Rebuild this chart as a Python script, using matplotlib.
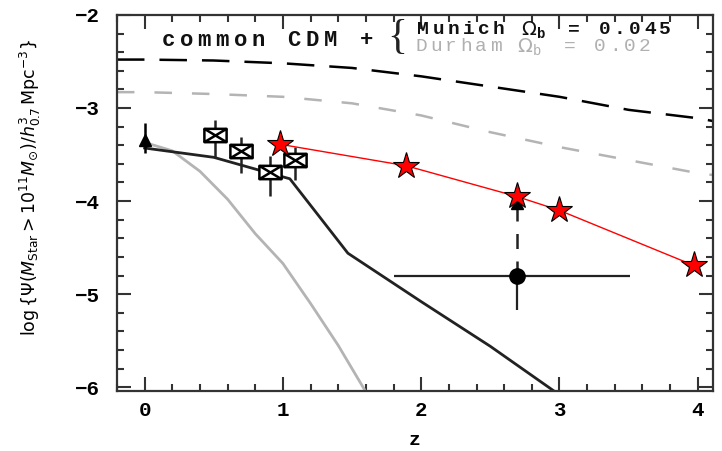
import matplotlib
matplotlib.use('Agg')
import matplotlib.pyplot as plt
from matplotlib.path import Path
from matplotlib.ticker import MultipleLocator

# model curves
munich_z = [-0.2, 0.0, 0.5, 1.0, 1.5, 2.0, 2.5, 3.0, 3.5, 4.0, 4.11]
munich_cdm = [-2.48, -2.48, -2.49, -2.52, -2.57, -2.66, -2.77, -2.88, -3.02, -3.11, -3.14]
durham_z = [-0.2, 0.0, 0.5, 1.0, 1.5, 2.0, 2.5, 3.0, 3.5, 4.0, 4.11]
durham_cdm = [-2.83, -2.83, -2.85, -2.88, -2.95, -3.08, -3.26, -3.42, -3.56, -3.70, -3.72]
munich_sam_z = [0.0, 0.5, 1.0, 1.05, 1.47, 2.0, 2.5, 2.97]
munich_sam = [-3.43, -3.53, -3.74, -3.76, -4.56, -5.08, -5.56, -6.05]
durham_sam_z = [0.0, 0.2, 0.4, 0.6, 0.8, 1.0, 1.2, 1.4, 1.6]
durham_sam = [-3.37, -3.46, -3.68, -3.98, -4.35, -4.67, -5.10, -5.55, -6.05]

# data points
tri_z, tri_y, tri_lo, tri_hi = 0.0, -3.34, -3.48, -3.16
box_z = [0.51, 0.70, 0.91, 1.09]
box_y = [-3.29, -3.46, -3.69, -3.56]
box_lo = [-3.53, -3.70, -3.94, -3.77]
box_hi = [-3.13, -3.31, -3.52, -3.42]
star_z = [0.98, 1.89, 2.69, 3.00, 3.97]
star_y = [-3.39, -3.62, -3.95, -4.10, -4.69]
dot_z, dot_y = 2.69, -4.80
dot_zlo, dot_zhi = 1.80, 3.51
dot_ylo, dot_yup = -5.17, -4.02

fig = plt.figure(figsize=(7.22, 4.51), dpi=100)
ax = fig.add_axes([0.162, 0.133, 0.8255, 0.834])


def spaced_text(x, y, chars, step, **kw):
    # old plot fonts are wide, so put each char at a fixed pixel step
    for i, ch in enumerate(chars):
        if ch == ' ':
            continue
        if ch == 'SUB_b':
            ax.annotate('b', (x, y), xytext=(i * step - 3, -4),
                        textcoords='offset pixels', ha='center', va='center',
                        **dict(kw, fontsize=10))
            continue
        ax.annotate(ch, (x, y), xytext=(i * step, 0), textcoords='offset pixels',
                    ha='center', va='center', **kw)


ax.plot(munich_z, munich_cdm, color='black', lw=1.8, dashes=(11, 6))
ax.plot(durham_z, durham_cdm, color='#b4b4b4', lw=1.8, dashes=(7, 8))
ax.plot(durham_sam_z, durham_sam, color='#b4b4b4', lw=2)
ax.plot(munich_sam_z, munich_sam, color='#222222', lw=2)

ax.errorbar([tri_z], [tri_y], yerr=[[tri_y - tri_lo], [tri_hi - tri_y]],
            fmt='^', color='black', ms=9, elinewidth=1.8, capsize=0)

box = Path([(-1, -0.6), (1, -0.6), (1, 0.6), (-1, 0.6), (-1, -0.6),
            (1, 0.6), (-1, 0.6), (1, -0.6)],
           [Path.MOVETO, Path.LINETO, Path.LINETO, Path.LINETO, Path.CLOSEPOLY,
            Path.LINETO, Path.MOVETO, Path.LINETO])
box_err = [[y - lo for y, lo in zip(box_y, box_lo)],
           [hi - y for y, hi in zip(box_y, box_hi)]]
ax.errorbar(box_z, box_y, yerr=box_err, fmt='none', ecolor='#222222',
            elinewidth=1.8, capsize=0)
ax.plot(box_z, box_y, ls='none', marker=box, ms=16, mfc='white',
        mec='black', mew=1.8)

# lower limit point
ax.errorbar([dot_z], [dot_y], xerr=[[dot_z - dot_zlo], [dot_zhi - dot_z]],
            yerr=[[dot_y - dot_ylo], [0]], fmt='none', ecolor='#222222',
            elinewidth=1.6, capsize=0)
ax.plot([dot_z, dot_z], [dot_y, dot_yup], color='#222222', lw=1.8,
        dashes=(6, 5))
ax.plot([dot_z], [dot_yup], marker='^', color='black', ms=8)
ax.plot([dot_z], [dot_y], marker='o', color='black', ms=11)

ax.plot(star_z, star_y, color='red', lw=1, zorder=4)
ax.plot(star_z, star_y, ls='none', marker='*', ms=20, mfc='red',
        mec='black', mew=0.8, zorder=5)

ax.set_xlim(-0.2, 4.11)
ax.set_ylim(-6.04, -2.0)
ax.xaxis.set_major_locator(MultipleLocator(1))
ax.xaxis.set_minor_locator(MultipleLocator(0.2))
ax.yaxis.set_major_locator(MultipleLocator(1))
ax.yaxis.set_minor_locator(MultipleLocator(0.2))
ax.tick_params(which='both', direction='in', top=True, right=True,
               color='#333333', width=1.5)
ax.tick_params(which='major', length=10, labelsize=15)
ax.tick_params(axis='x', which='major', pad=7)
ax.tick_params(axis='y', which='major', pad=12)
ax.tick_params(which='minor', length=5)
for lab in ax.get_xticklabels() + ax.get_yticklabels():
    lab.set_family('Liberation Mono')
    lab.set_weight('bold')
for s in ax.spines.values():
    s.set_linewidth(1.6)
    s.set_color('#333333')

ax.set_xlabel('z', family='Liberation Mono', weight='bold', fontsize=14,
              labelpad=9)
ax.set_ylabel(r'$\log\{\Psi(M_{\rm Star}>10^{11}M_{\odot})/h_{0.7}^{3}\,{\rm Mpc}^{-3}\}$',
              fontsize=12.5)
ax.yaxis.set_label_coords(-0.124, 0.54)

spaced_text(0.171, -2.27, list('common CDM +'), 18, family='Liberation Mono',
            weight='bold', fontsize=16, color='#111111')
ax.text(1.83, -2.25, '{', fontsize=30, ha='center', va='center',
        family='Liberation Serif', color='#222222')
munich_chars = list('Munich ') + [r'$\Omega$', 'SUB_b'] + list(' = 0.045')
durham_chars = list('Durham ') + [r'$\Omega$', 'SUB_b'] + list(' = 0.02')
spaced_text(2.015, -2.16, munich_chars, 15.1, family='Liberation Mono',
            weight='bold', fontsize=14, color='#111111')
spaced_text(2.0, -2.34, durham_chars, 14.9, family='Liberation Mono',
            fontsize=14, color='#b0b0b0')

fig.savefig('out.png', dpi=100)
